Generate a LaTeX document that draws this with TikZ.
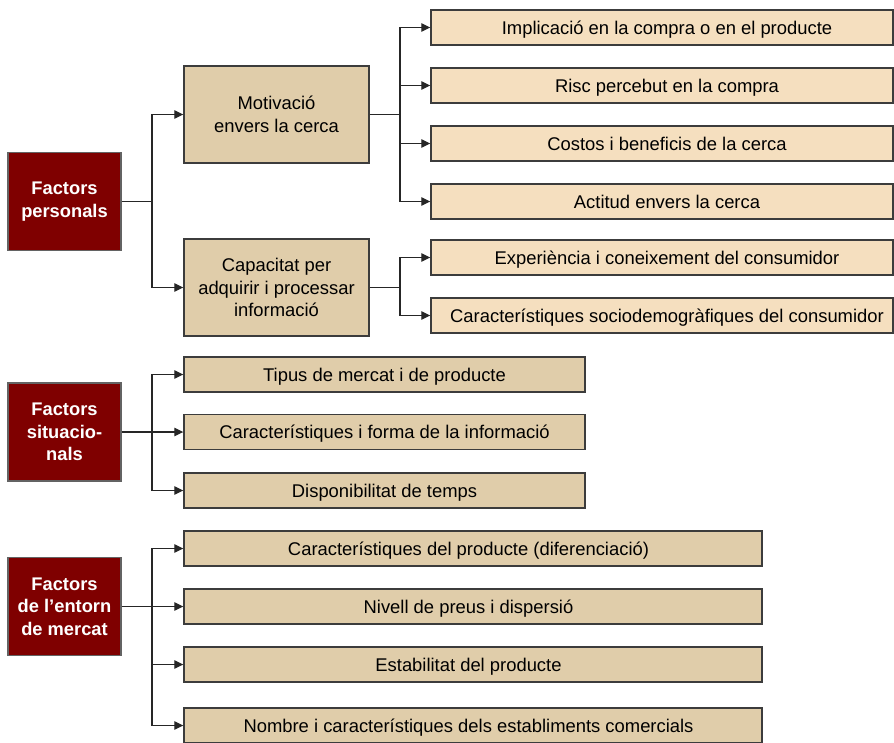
\documentclass[tikz,border=0pt]{standalone}
\usepackage{fontspec}
\setmainfont{Liberation Sans}
\usetikzlibrary{arrows.meta}
\definecolor{darkred}{HTML}{7F0000}
\definecolor{beigeA}{HTML}{E0CDAA}
\definecolor{beigeB}{HTML}{F5DFBF}
\definecolor{edgegray}{HTML}{3C3C3C}
\tikzset{
  factor/.style={draw=edgegray!80, line width=1.4pt, fill=darkred, text=white, font=\fontsize{18.3}{22.5}\selectfont\bfseries, minimum width=113pt, minimum height=98pt, align=center, inner sep=0pt},
  midbox/.style={draw=edgegray, line width=1.4pt, fill=beigeA, font=\fontsize{18.4}{22.5}\selectfont, minimum width=185pt, minimum height=97pt, align=center, inner sep=0pt},
  leafA/.style={draw=edgegray, line width=1.4pt, fill=beigeA, font=\fontsize{18.4}{22}\selectfont, minimum height=35pt, inner sep=0pt, text height=13.2pt, text depth=0pt},
  leafB/.style={draw=edgegray, line width=1.4pt, fill=beigeB, font=\fontsize{18.4}{22}\selectfont, minimum width=462pt, minimum height=35pt, inner sep=0pt, text height=13.2pt, text depth=0pt},
  conn/.style={draw=black!85, line width=1.2pt},
  arr/.style={conn, -{Triangle[length=9pt,width=8.5pt]}}
}
\newcommand{\rsh}[1]{\hspace*{10pt}#1}
\newcommand{\lsh}[1]{#1\hspace*{9pt}}
\begin{document}
\begin{tikzpicture}[x=1pt,y=-1pt]
\useasboundingbox (0,0) rectangle (894,742);
% factor boxes
\node[factor] (fp) at (64.5,201.5) {Factors\\personals};
\node[factor] (fs) at (64.5,432) {Factors\\situacio-\\nals};
\node[factor] (fe) at (64.5,606.5) {Factors\\de l’entorn\\de mercat};
% middle boxes
\node[midbox] (mot) at (276.5,114.5) {Motivació\\envers la cerca};
\node[midbox] (cap) at (276.5,287.5) {Capacitat per\\adquirir i processar\\informació};
% right leaves
\node[leafB] (r1) at (662,27.5) {\rsh{Implicació en la compra o en el producte}};
\node[leafB] (r2) at (662,85.5) {\rsh{Risc percebut en la compra}};
\node[leafB] (r3) at (662,143.5) {\rsh{Costos i beneficis de la cerca}};
\node[leafB] (r4) at (662,201.5) {\rsh{Actitud envers la cerca}};
\node[leafB] (r5) at (662,257.5) {\rsh{Experiència i coneixement del consumidor}};
\node[leafB] (r6) at (662,315.5) {\rsh{Característiques sociodemogràfiques del consumidor}};
% situational leaves
\node[leafA, minimum width=401pt] (s1) at (384.5,374.5) {Tipus de mercat i de producte};
\node[leafA, minimum width=401pt] (s2) at (384.5,432) {Característiques i forma de la informació};
\node[leafA, minimum width=401pt] (s3) at (384.5,490.5) {Disponibilitat de temps};
% market leaves
\node[leafA, minimum width=578pt] (e1) at (473,548.5) {\lsh{Característiques del producte (diferenciació)}};
\node[leafA, minimum width=578pt] (e2) at (473,606.5) {\lsh{Nivell de preus i dispersió}};
\node[leafA, minimum width=578pt] (e3) at (473,664.5) {\lsh{Estabilitat del producte}};
\node[leafA, minimum width=578pt] (e4) at (473,725.5) {\lsh{Nombre i característiques dels establiments comercials}};
% junctions
\coordinate (j1) at (152,201.5);
\coordinate (jm) at (400,114.5);
\coordinate (jc) at (400,287.5);
\coordinate (js) at (152,432);
\coordinate (je) at (152,606.5);
% connectors personal
\draw[conn] (fp.east) -- (j1);
\draw[arr] (j1) |- (mot.west);
\draw[arr] (j1) |- (cap.west);
\draw[conn] (mot.east) -- (jm);
\draw[arr] (jm) |- (r1.west);
\draw[arr] (jm) |- (r2.west);
\draw[arr] (jm) |- (r3.west);
\draw[arr] (jm) |- (r4.west);
\draw[conn] (cap.east) -- (jc);
\draw[arr] (jc) |- (r5.west);
\draw[arr] (jc) |- (r6.west);
% connectors situational
\draw[arr] (fs.east) -- (s2.west);
\draw[arr] (js) |- (s1.west);
\draw[arr] (js) |- (s3.west);
% connectors market
\draw[arr] (fe.east) -- (e2.west);
\draw[arr] (je) |- (e1.west);
\draw[arr] (je) |- (e3.west);
\draw[arr] (je) |- (e4.west);
\end{tikzpicture}
\end{document}
